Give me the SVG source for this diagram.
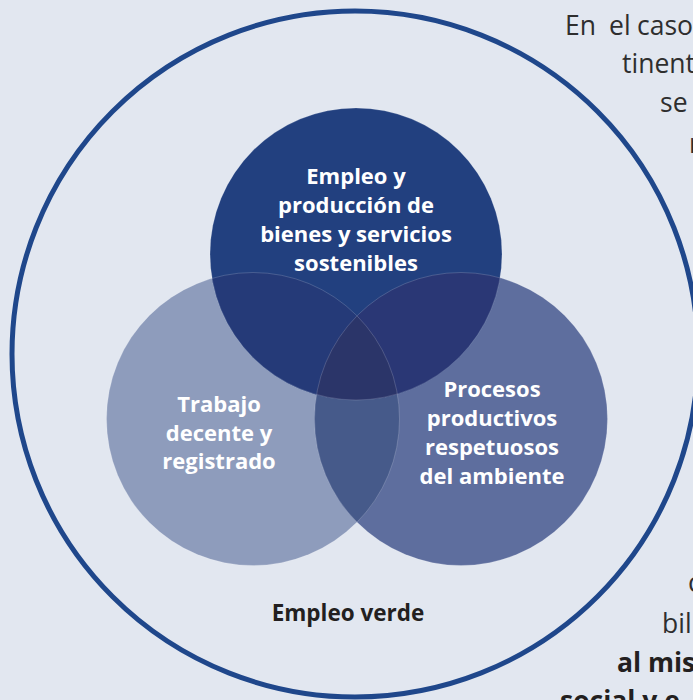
<svg xmlns="http://www.w3.org/2000/svg" width="693" height="700" viewBox="0 0 693 700">
  <defs>
    <style>
      .lbl { font-family: "Open Sans", "Liberation Sans", sans-serif; font-weight: 700; font-size: 22px; fill: #ffffff; text-anchor: middle; }
      .outer-lbl { font-family: "Open Sans", "Liberation Sans", sans-serif; font-weight: 700; font-size: 22.5px; fill: #231f20; text-anchor: middle; }
      .body { font-family: "Open Sans", "Liberation Sans", sans-serif; font-weight: 400; font-size: 26.5px; fill: #2e2e2e; }
      .body-b { font-family: "Open Sans", "Liberation Sans", sans-serif; font-weight: 700; font-size: 26.5px; fill: #231f20; }
      .edge { fill: none; stroke: #ffffff; stroke-opacity: 0.22; stroke-width: 0.8; }
    </style>
    <clipPath id="clipLeft"><circle cx="253" cy="419" r="146.5"/></clipPath>
    <clipPath id="clipRight"><circle cx="461" cy="419" r="146.5"/></clipPath>
  </defs>
  <rect x="0" y="0" width="693" height="700" fill="#e2e7f0"/>

  <g id="empleo-verde">
    <circle cx="355" cy="354" r="343" fill="none" stroke="#1f478b" stroke-width="5"/>
    <text class="outer-lbl" x="348" y="621">Empleo verde</text>
  </g>

  <g id="trabajo-decente">
    <circle cx="253" cy="419" r="146.5" fill="#8e9cbc"/>
  </g>
  <g id="procesos-productivos">
    <circle cx="461" cy="419" r="146.5" fill="#5e6e9e"/>
  </g>
  <g id="empleo-produccion">
    <circle cx="356" cy="254" r="146" fill="#22407f"/>
  </g>

  <g id="intersections">
    <circle cx="461" cy="419" r="146.5" fill="#465a8a" clip-path="url(#clipLeft)"/>
    <circle cx="356" cy="254" r="146" fill="#253a78" clip-path="url(#clipLeft)"/>
    <circle cx="356" cy="254" r="146" fill="#2a3775" clip-path="url(#clipRight)"/>
    <g clip-path="url(#clipLeft)">
      <circle cx="356" cy="254" r="146" fill="#2b3569" clip-path="url(#clipRight)"/>
    </g>
    <circle class="edge" cx="253" cy="419" r="146.5"/>
    <circle class="edge" cx="461" cy="419" r="146.5"/>
    <circle class="edge" cx="356" cy="254" r="146"/>
  </g>

  <g id="labels">
    <text class="lbl" x="356" y="184">Empleo y</text>
    <text class="lbl" x="356" y="213">producción de</text>
    <text class="lbl" x="356" y="242">bienes y servicios</text>
    <text class="lbl" x="356" y="271">sostenibles</text>

    <text class="lbl" x="219" y="412">Trabajo</text>
    <text class="lbl" x="219" y="441">decente y</text>
    <text class="lbl" x="219" y="469">registrado</text>

    <text class="lbl" x="492" y="397">Procesos</text>
    <text class="lbl" x="492" y="426">productivos</text>
    <text class="lbl" x="492" y="455">respetuosos</text>
    <text class="lbl" x="492" y="484">del ambiente</text>
  </g>

  <g id="connectors"/>

  <g id="side-text">
    <text class="body" x="565" y="35">En</text>
    <text class="body" x="609" y="35">el</text>
    <text class="body" x="637" y="35">caso</text>
    <text class="body" x="622" y="73">tinent</text>
    <text class="body" x="660" y="112">se</text>
    <text class="body" x="689" y="153">r</text>
    <text class="body" x="688" y="592">c</text>
    <text class="body" x="662" y="633">bil</text>
    <text class="body-b" x="617" y="672">al mis</text>
    <text class="body-b" x="560" y="710">social y e</text>
  </g>
</svg>
